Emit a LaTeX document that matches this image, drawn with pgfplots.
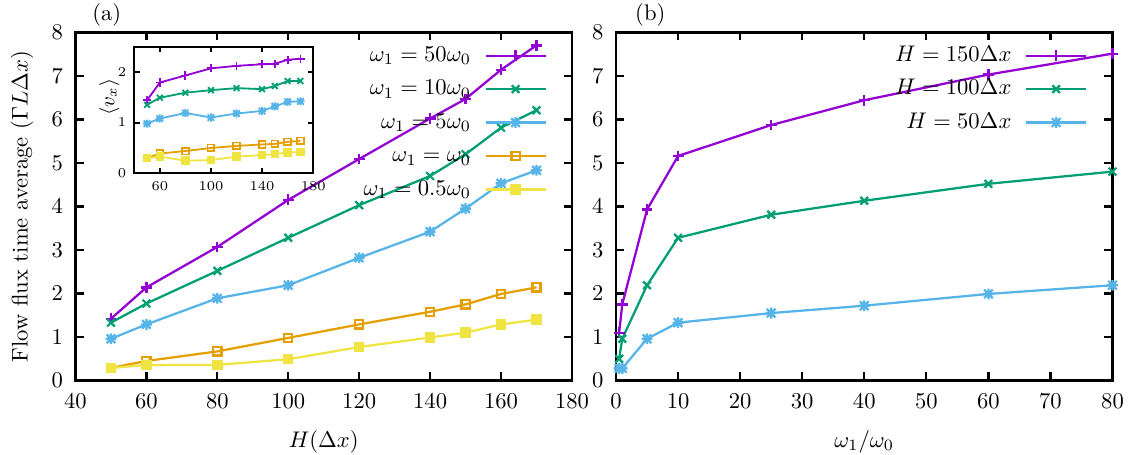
\documentclass[border=0pt]{standalone}
\usepackage{pgfplots}
\usepackage{pgfplotstable}
\pgfplotsset{compat=1.18}
\definecolor{gpP}{HTML}{9400D3}
\definecolor{gpG}{HTML}{009E73}
\definecolor{gpB}{HTML}{56B4E9}
\definecolor{gpO}{HTML}{E69F00}
\definecolor{gpY}{HTML}{F0E442}
\pgfdeclareplotmark{gpstar}{%
  \pgfpathmoveto{\pgfqpoint{-\pgfplotmarksize}{0pt}}\pgfpathlineto{\pgfqpoint{\pgfplotmarksize}{0pt}}%
  \pgfpathmoveto{\pgfqpoint{0pt}{-\pgfplotmarksize}}\pgfpathlineto{\pgfqpoint{0pt}{\pgfplotmarksize}}%
  \pgfpathmoveto{\pgfqpoint{-.8\pgfplotmarksize}{-.8\pgfplotmarksize}}\pgfpathlineto{\pgfqpoint{.8\pgfplotmarksize}{.8\pgfplotmarksize}}%
  \pgfpathmoveto{\pgfqpoint{-.8\pgfplotmarksize}{.8\pgfplotmarksize}}\pgfpathlineto{\pgfqpoint{.8\pgfplotmarksize}{-.8\pgfplotmarksize}}%
  \pgfusepathqstroke}

\pgfplotstableread{
H    P    G    B    O    Y
50  1.42 1.33 0.96 0.29 0.29
60  2.14 1.77 1.29 0.45 0.36
80  3.07 2.52 1.89 0.67 0.36
100 4.15 3.28 2.19 0.98 0.49
120 5.09 4.03 2.82 1.29 0.77
140 6.02 4.70 3.42 1.58 0.99
150 6.47 5.20 3.95 1.75 1.10
160 7.14 5.81 4.53 1.99 1.29
170 7.70 6.21 4.83 2.14 1.40
}\tabA
\pgfplotstableread{
H    P    G    B    O    Y
50  1.44 1.35 0.98 0.30 0.30
60  1.79 1.49 1.08 0.39 0.33
80  1.93 1.59 1.19 0.44 0.25
100 2.07 1.64 1.10 0.50 0.26
120 2.12 1.68 1.18 0.54 0.33
140 2.15 1.66 1.23 0.57 0.36
150 2.16 1.72 1.32 0.58 0.38
160 2.24 1.82 1.41 0.62 0.41
170 2.26 1.82 1.42 0.64 0.42
}\tabInset
\pgfplotstableread{
w    P    G    B
0.5 1.10 0.50 0.28
1   1.75 0.96 0.28
5   3.93 2.19 0.96
10  5.16 3.28 1.33
25  5.87 3.81 1.55
40  6.44 4.13 1.72
60  7.03 4.52 1.99
80  7.51 4.80 2.19
}\tabB

\pgfplotsset{
  gpaxis/.style={
    scale only axis, width=219.7pt, height=154.1pt, clip=false,
    axis line style={line width=1.1pt},
    tick style={line width=1pt, black},
    major tick length=3.6pt, tick align=inside,
    ymin=0, ymax=8, ytick={0,...,8},
    xticklabel style={anchor=base, yshift=-12.2pt},
    yticklabel style={xshift=-2pt},
    ylabel style={at={(axis description cs:-0.108,0.5)}, anchor=center},
    xlabel style={at={(axis description cs:0.5,-0.191)}, anchor=base},
    legend cell align=right, legend plot pos=right,
    legend style={draw=none, fill=none, inner sep=0pt, row sep=3.8pt, column sep=5pt,
      nodes={inner sep=1pt, text height=7pt, text depth=2pt},
      anchor=north east, at={(0.95,0.97)}},
    legend image code/.code={\draw[mark repeat=2,mark phase=2] plot coordinates {(0pt,0pt) (13.25pt,0pt) (26.5pt,0pt)};},
    every axis plot/.append style={line width=1pt},
  },
  sP/.style={color=gpP, mark=+, mark size=2.4pt},
  sG/.style={color=gpG, mark=x, mark size=2.4pt},
  sB/.style={color=gpB, mark=gpstar, mark size=2.4pt},
  sO/.style={color=gpO, mark=square, mark size=1.8pt},
  sY/.style={color=gpY, mark=square*, mark size=1.8pt},
}

\begin{document}
\begin{tikzpicture}
\begin{axis}[gpaxis, xmin=40, xmax=180, xtick={40,60,...,180},
  xlabel={$H(\Delta x)$}, ylabel={Flow flux time average $(\Gamma L\Delta x)$}]
  \addplot[sP] table[x=H,y=P] {\tabA};
  \addlegendentry{$\omega_1=50\omega_0$}
  \addplot[sG] table[x=H,y=G] {\tabA};
  \addlegendentry{$\omega_1=10\omega_0$}
  \addplot[sB] table[x=H,y=B] {\tabA};
  \addlegendentry{$\omega_1=5\omega_0$}
  \addplot[sO] table[x=H,y=O] {\tabA};
  \addlegendentry{$\omega_1=\omega_0$}
  \addplot[sY] table[x=H,y=Y] {\tabA};
  \addlegendentry{$\omega_1=0.5\omega_0$}
  \node at (axis description cs:0.063,1.05) {(a)};
\end{axis}
\begin{axis}[at={(26.0pt,91.7pt)}, anchor=south west,
  scale only axis, width=79.2pt, height=56.1pt,
  xmin=40, xmax=180, ymin=0, ymax=2.5, xtick={60,100,140,180}, ytick={0,1,2},
  axis line style={line width=0.9pt}, tick style={line width=0.8pt, black},
  major tick length=2.5pt, tick align=inside,
  ticklabel style={font=\fontsize{6}{7}\selectfont},
  ylabel={$\langle v_x\rangle$},
  ylabel style={at={(axis description cs:-0.139,0.60)}, anchor=center, font=\small},
  every axis plot/.append style={line width=0.8pt},
  ]
  \addplot[sP, mark size=1.8pt] table[x=H,y=P] {\tabInset};
  \addplot[sG, mark size=1.8pt] table[x=H,y=G] {\tabInset};
  \addplot[sB, mark size=1.8pt] table[x=H,y=B] {\tabInset};
  \addplot[sO, mark size=1.5pt] table[x=H,y=O] {\tabInset};
  \addplot[sY, mark size=1.5pt] table[x=H,y=Y] {\tabInset};
\end{axis}
\begin{axis}[gpaxis, at={(239.2pt,0pt)}, anchor=south west,
  xmin=0, xmax=80, xtick={0,10,...,80},
  xlabel={$\omega_1/\omega_0$}]
  \addplot[sP] table[x=w,y=P] {\tabB};
  \addlegendentry{$H=150\Delta x$}
  \addplot[sG] table[x=w,y=G] {\tabB};
  \addlegendentry{$H=100\Delta x$}
  \addplot[sB] table[x=w,y=B] {\tabB};
  \addlegendentry{$H=50\Delta x$}
  \node at (axis description cs:0.069,1.05) {(b)};
\end{axis}
\pgfresetboundingbox
\path (-33.4pt,-32.5pt) rectangle (468.4pt,168.4pt);
\end{tikzpicture}
\end{document}
